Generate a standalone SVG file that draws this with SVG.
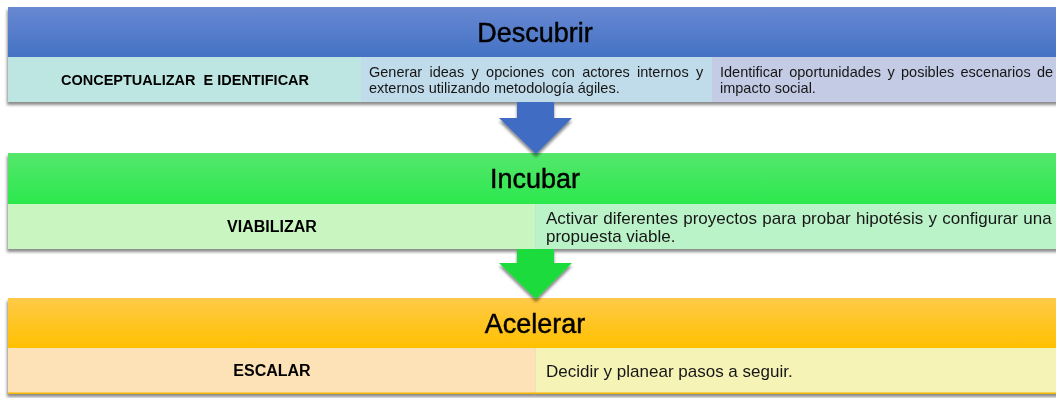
<svg xmlns="http://www.w3.org/2000/svg" width="1056" height="398" viewBox="0 0 1056 398">
  <defs>
    <linearGradient id="gBlue" x1="0" y1="0" x2="0" y2="1">
      <stop offset="0" stop-color="#6888d2"/>
      <stop offset="1" stop-color="#4472c4"/>
    </linearGradient>
    <linearGradient id="gGreen" x1="0" y1="0" x2="0" y2="1">
      <stop offset="0" stop-color="#55e76c"/>
      <stop offset="1" stop-color="#2be84d"/>
    </linearGradient>
    <linearGradient id="gOrange" x1="0" y1="0" x2="0" y2="1">
      <stop offset="0" stop-color="#ffca48"/>
      <stop offset="1" stop-color="#ffc000"/>
    </linearGradient>
    <filter id="sh" x="-5%" y="-20%" width="110%" height="150%">
      <feDropShadow dx="-1" dy="3" stdDeviation="1.8" flood-color="#000" flood-opacity="0.45"/>
    </filter>
    <filter id="ash" x="-30%" y="-30%" width="160%" height="160%">
      <feDropShadow dx="0" dy="3" stdDeviation="1.8" flood-color="#000" flood-opacity="0.5"/>
    </filter>
  </defs>
  <style>
    .title{font-family:"Liberation Sans",Arial,sans-serif;font-size:27px;fill:#000;stroke:#000;stroke-width:0.45;text-anchor:middle}
    .lab{font-family:"Liberation Sans",Arial,sans-serif;font-weight:bold;fill:#000;text-anchor:middle;white-space:pre}
    .desc{font-family:"Liberation Sans",Arial,sans-serif;fill:#161616}
    .d1{font-size:14.5px}
    .d2{font-size:17px}
  </style>
  <rect width="1056" height="398" fill="#fff"/>

  <g id="descubrir" filter="url(#sh)">
    <rect x="8" y="7" width="1054" height="50" fill="url(#gBlue)"/>
    <rect x="8" y="57" width="353" height="45" fill="#bde5e2"/>
    <rect x="361" y="57" width="351" height="45" fill="#c0dbea"/>
    <rect x="712" y="57" width="350" height="45" fill="#c3cbe5"/>
    <text class="title" x="535" y="41.5">Descubrir</text>
    <text class="lab" x="185" y="84.5" font-size="14.5">CONCEPTUALIZAR  E IDENTIFICAR</text>
    <text class="desc d1" x="369" y="77" word-spacing="3.3">Generar ideas y opciones con actores internos y</text>
    <text class="desc d1" x="369" y="93">externos utilizando metodología ágiles.</text>
    <text class="desc d1" x="720" y="77" word-spacing="2.3">Identificar oportunidades y posibles escenarios de</text>
    <text class="desc d1" x="720" y="93">impacto social.</text>
  </g>

  <g id="incubar" filter="url(#sh)">
    <rect x="8" y="153" width="1054" height="51" fill="url(#gGreen)"/>
    <rect x="8" y="204" width="527.5" height="45" fill="#c8f5c0"/>
    <rect x="535.5" y="204" width="526.5" height="45" fill="#bbf3c8"/>
    <text class="title" x="535" y="188">Incubar</text>
    <text class="lab" x="272" y="232" font-size="16">VIABILIZAR</text>
    <text class="desc d2" x="546" y="224" word-spacing="0.6">Activar diferentes proyectos para probar hipotésis y configurar una</text>
    <text class="desc d2" x="546" y="242">propuesta viable.</text>
  </g>

  <g id="acelerar" filter="url(#sh)">
    <rect x="8" y="298" width="1054" height="50" fill="url(#gOrange)"/>
    <rect x="8" y="348" width="527.5" height="45" fill="#fce2b6"/>
    <rect x="535.5" y="348" width="526.5" height="45" fill="#f5f3b5"/>
    <rect x="8" y="392.5" width="1054" height="1.5" fill="#f2b400"/>
    <text class="title" x="535" y="333">Acelerar</text>
    <text class="lab" x="272" y="376" font-size="16">ESCALAR</text>
    <text class="desc d2" x="546" y="377">Decidir y planear pasos a seguir.</text>
  </g>

  <g id="connectors">
    <polygon filter="url(#ash)" fill="#3f6dc3" points="517,102 554,102 554,118 572,118 536,154 499,118 517,118"/>
    <polygon filter="url(#ash)" fill="#1fdc3c" points="517,249 554,249 554,263 572,263 536,299 499,263 517,263"/>
  </g>
</svg>
